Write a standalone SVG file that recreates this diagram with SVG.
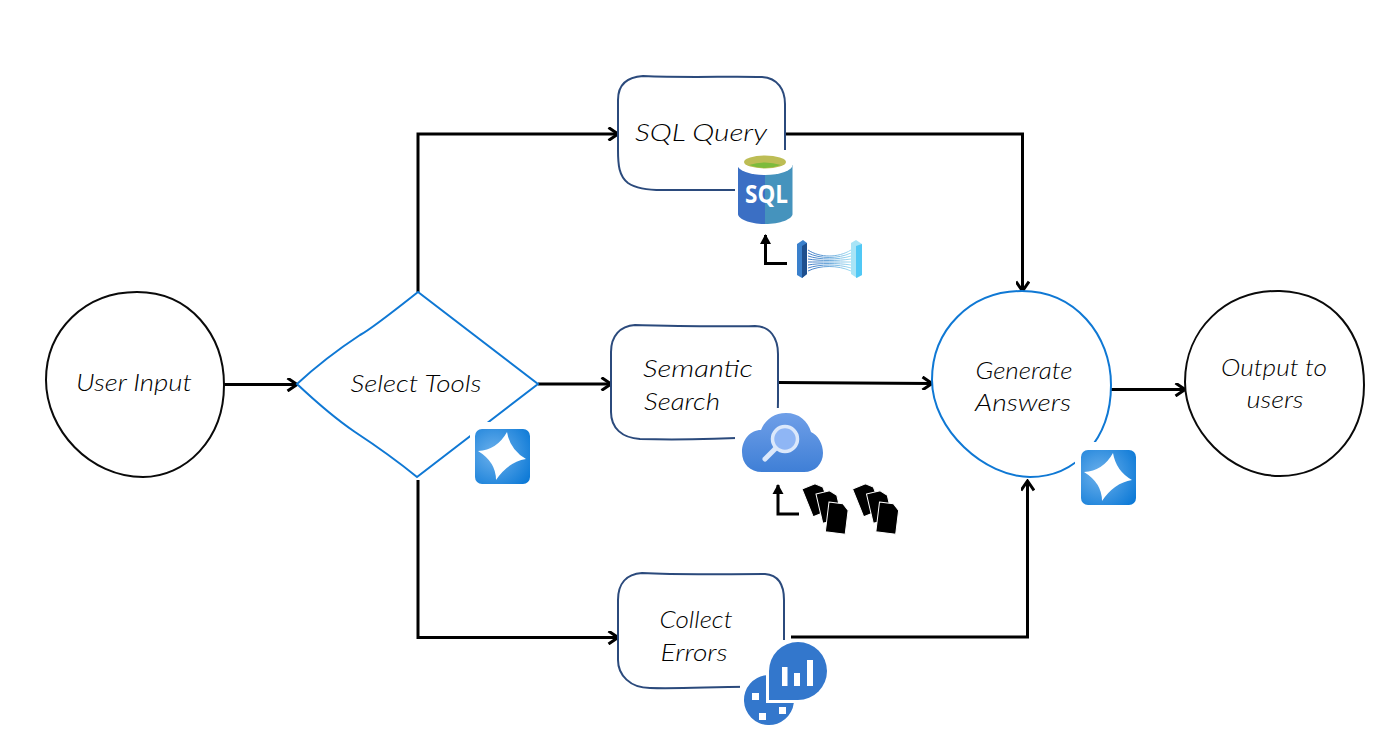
<svg xmlns="http://www.w3.org/2000/svg" xmlns:xlink="http://www.w3.org/1999/xlink" width="1375" height="741" viewBox="0 0 1375 741">
<style>
.bg{fill:#fff}
.black{fill:#fff;stroke:#0a0a0a;stroke-width:2}
.blue{fill:#fff;stroke:#0f78d4;stroke-width:2}
.navy{fill:#fff;stroke:#2b4a7c;stroke-width:2}
.c{fill:none;stroke:#000;stroke-width:3}
.t{font-family:"Lato","Open Sans",sans-serif;font-style:italic;font-weight:300;font-size:24px;fill:#000;text-anchor:middle}
.w{fill:#fff}
</style>
<defs>
<marker id="a" viewBox="0 0 14 14" markerUnits="userSpaceOnUse" markerWidth="14" markerHeight="14" refX="12" refY="7" orient="auto"><path d="M2.500 .5 L12 7 L2.500 13.500" fill="none" stroke="#000" stroke-width="3"/></marker>
<marker id="b" viewBox="0 0 14 14" markerUnits="userSpaceOnUse" markerWidth="14" markerHeight="14" refX="11" refY="7" orient="auto"><path d="M2 1.500 L12 7 L2 12.500 Z" fill="#000"/></marker>
<radialGradient id="tile" cx="0.35" cy="0.45" r="0.8"><stop offset="0" stop-color="#6db1ec"/><stop offset="1" stop-color="#0a78d6"/></radialGradient>
<linearGradient id="cloud" x1="0" y1="0" x2="0" y2="1"><stop offset="0" stop-color="#6f9fe8"/><stop offset="1" stop-color="#3f7fd6"/></linearGradient>
<linearGradient id="fan" gradientUnits="userSpaceOnUse" x1="808" y1="0" x2="851" y2="0"><stop offset="0" stop-color="#3d78c4"/><stop offset="1" stop-color="#9fdcf2"/></linearGradient>
<g id="star"><rect x="0" y="0" width="55" height="55" rx="7" fill="url(#tile)"/><path d="M32 3 Q35 21 51 30 Q33 33 21 51 Q21 33 3 22 Q22 21 32 3Z" class="w"/></g>
<g id="doc"><path d="M0 0 H14 L20 6 V30 H0Z" fill="#000" stroke="#fff" stroke-width="1"/></g>
<g id="docs"><use xlink:href="#doc" transform="translate(0 7) rotate(-22)"/><use xlink:href="#doc" transform="translate(14 12) rotate(-13)"/><use xlink:href="#doc" transform="translate(27 20) rotate(7)"/></g>
</defs>
<rect class="bg" width="1375" height="741"/>
<g id="connectors">
<path class="c" marker-end="url(#a)" d="M224 384.500 H297"/>
<path class="c" marker-end="url(#a)" d="M418 292 V134 H618"/>
<path class="c" marker-end="url(#a)" d="M538 384 H611"/>
<path class="c" marker-end="url(#a)" d="M418 480 V637.500 H618"/>
<path class="c" marker-end="url(#a)" d="M785 134 H1022.500 V291"/>
<path class="c" marker-end="url(#a)" d="M779 382.500 L932 383.500"/>
<path class="c" marker-end="url(#a)" d="M791 637 H1027.500 V481"/>
<path class="c" marker-end="url(#a)" d="M1111 389.500 H1185"/>
<path class="c" marker-end="url(#b)" d="M787 263.500 H765.500 V235"/>
<path class="c" marker-end="url(#b)" d="M799 514 H778 V485"/>
</g>
<g id="user-input">
<path class="black" d="M137 292 C190 292 224 335 224 385 C224 440 185 477 143 477 C90 477 46 430 46 380 C46 330 85 292 137 292Z"/>
<text class="t" x="134" y="391" textLength="116" lengthAdjust="spacingAndGlyphs">User Input</text>
</g>
<g id="select-tools">
<path class="blue" d="M418 292 Q370 330 360 335 Q325 358 297 384 Q330 415 355 432 Q390 455 417 477 L538 384Z"/>
<text class="t" x="416" y="392" textLength="131" lengthAdjust="spacingAndGlyphs">Select Tools</text>
<rect class="bg" x="470" y="422" width="65" height="68"/>
<use xlink:href="#star" x="475" y="429"/>
</g>
<g id="sql-query">
<path class="navy" d="M643 76 C690 78 730 76 762 77 C778 78 785 90 785 104 V150 C785 170 785 185 770 190 L668 190 Q640 191 628 183 C619 176 618 165 618 150 V100 C618 86 626 77 643 76Z"/>
<text class="t" x="701" y="141" textLength="132" lengthAdjust="spacingAndGlyphs">SQL Query</text>
<rect class="bg" x="735" y="150" width="61" height="78"/>
<path d="M738 165 V214 C738 219 750 224 765 224 V165Z" fill="#3b6fc4"/>
<path d="M765 165 H792.500 V214 C792.500 219 780 224 765 224Z" fill="#4593bd"/>
<ellipse cx="765" cy="165" rx="27.500" ry="10" fill="#fff"/>
<ellipse cx="765" cy="162" rx="21" ry="6.500" fill="#bdbd55"/>
<path d="M749 165 Q765 160 781 165 Q765 171 749 165Z" fill="#7dbb3c"/>
<text x="766.500" y="203" font-family="'Open Sans','Liberation Sans',sans-serif" font-weight="700" font-size="25" fill="#fff" text-anchor="middle" textLength="43" lengthAdjust="spacingAndGlyphs">SQL</text>
</g>
<g id="bridge-icon">
<path d="M808 250 C820 258 838 258 851 250 M808 253 C820 259 838 259 851 253 M808 256 C820 260 838 260 851 256 M808 259 C820 261 838 261 851 259 M808 262 C820 262 838 262 851 262 M808 265 C820 263 838 263 851 265 M808 268 C820 264 838 264 851 268 M808 271 C820 265 838 265 851 271" fill="none" stroke="url(#fan)" stroke-width="1"/>
<path d="M797 244 L803 240 L807 243 V274 L802 278 L797 275Z" fill="#3a80cc"/>
<path d="M802 246 L807 243 V274 L802 278Z" fill="#1e4f8e"/>
<path d="M851 243 L856 240 L862 244 V275 L857 278 L851 274Z" fill="#a8e4f6"/>
<path d="M856 246 L862 244 V275 L856 278Z" fill="#50c8f5"/>
</g>
<g id="semantic-search">
<path class="navy" d="M635 325 C680 326 720 327 755 326 C770 326 778 338 778 354 V400 C778 420 778 436 760 437 C720 439 680 440 640 439 C622 438 611 428 611 412 V352 C611 336 620 326 635 325Z"/>
<text class="t" x="698" y="377" textLength="110" lengthAdjust="spacingAndGlyphs">Semantic</text>
<text class="t" x="682" y="410" textLength="76" lengthAdjust="spacingAndGlyphs">Search</text>
<rect class="bg" x="735" y="408" width="92" height="68"/>
<path d="M762 472 C750 472 742 464 742 452 C742 440 750 430 761 430 C765 420 774 413 786 413 C799 413 808 421 811 432 C818 435 823 444 823 453 C823 464 815 472 804 472Z" fill="url(#cloud)"/>
<circle cx="785" cy="439" r="12.500" fill="#8fb6f5" stroke="#dbe8fb" stroke-width="3.500"/>
<path d="M775 449 L765 459" stroke="#dbe8fb" stroke-width="5" stroke-linecap="round"/>
</g>
<use id="docs-1" xlink:href="#docs" x="802" y="482"/>
<use id="docs-2" xlink:href="#docs" x="852.500" y="482"/>
<g id="collect-errors">
<path class="navy" d="M642 573 C680 575 720 574 765 574 C778 575 784 585 784 600 V650 C784 670 784 685 765 687 C720 686 690 689 650 688 C630 688 618 675 618 660 V600 C618 584 626 574 642 573Z"/>
<text class="t" x="696" y="628" textLength="73" lengthAdjust="spacingAndGlyphs">Collect</text>
<text class="t" x="694" y="661" textLength="67" lengthAdjust="spacingAndGlyphs">Errors</text>
<rect class="bg" x="740" y="640" width="90" height="88" rx="30"/>
<path d="M766 675.200 A25 25 0 1 0 793.800 703 H766Z" fill="#3377cc"/>
<path d="M769 700 V671 A29 29 0 1 1 798 700Z" fill="#3377cc"/>
<rect x="782" y="667" width="5.500" height="19" class="w"/><rect x="794" y="673" width="6" height="13" class="w"/><rect x="807" y="660" width="6" height="26" class="w"/>
<rect x="752" y="693" width="7" height="7" class="w"/><rect x="759" y="713" width="7" height="7" class="w"/><rect x="779" y="707" width="7" height="7" class="w"/>
</g>
<g id="generate-answers">
<path class="blue" d="M1022 291 C1075 291 1111 335 1111 385 C1111 440 1075 477 1030 477 C985 477 932 430 932 380 C932 330 970 291 1022 291Z"/>
<text class="t" x="1024" y="379" textLength="97" lengthAdjust="spacingAndGlyphs">Generate</text>
<text class="t" x="1023" y="411" textLength="96" lengthAdjust="spacingAndGlyphs">Answers</text>
<rect class="bg" x="1075" y="442" width="68" height="70"/>
<use xlink:href="#star" x="1081" y="450"/>
</g>
<g id="output-to-users">
<path class="black" d="M1280 291 C1335 293 1364 335 1364 385 C1364 440 1325 476 1280 476 C1230 476 1185 430 1185 382 C1185 330 1225 290 1280 291Z"/>
<text class="t" x="1274" y="376" textLength="106" lengthAdjust="spacingAndGlyphs">Output to</text>
<text class="t" x="1275" y="408" textLength="57" lengthAdjust="spacingAndGlyphs">users</text>
</g>
</svg>
